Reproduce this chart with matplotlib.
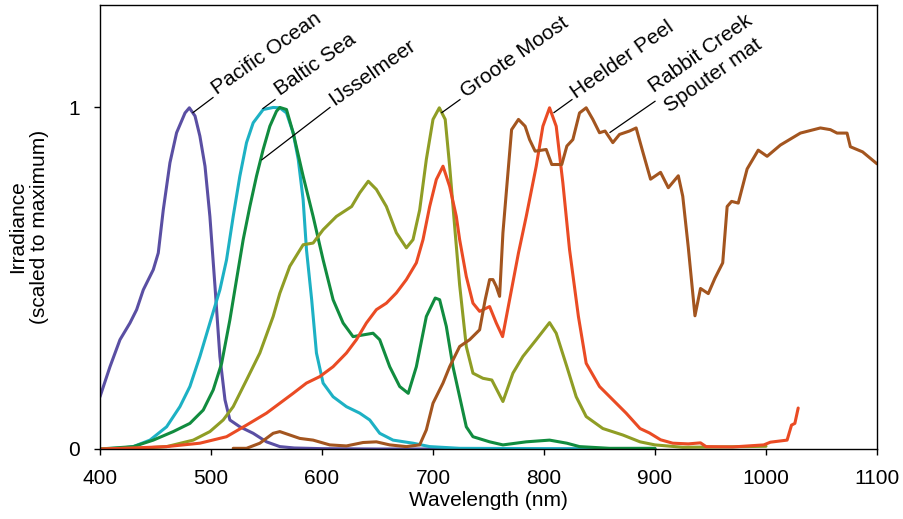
import matplotlib
matplotlib.use("Agg")
import matplotlib.pyplot as plt

plt.rcParams['font.family'] = ['Liberation Sans', 'DejaVu Sans']

# wavelength (nm) / irradiance scaled to max
pacific_x = [400, 409, 418, 427, 433, 439, 448, 452.5, 457, 463, 469, 476.6, 480.5, 485.6, 490, 494.6,
             499, 503.6, 508, 512.6, 517, 526, 538, 550, 562, 575, 600, 650, 700, 750, 800, 850, 900]
pacific_y = [0.153, 0.241, 0.32, 0.369, 0.408, 0.466, 0.525, 0.574, 0.70, 0.838, 0.926, 0.984, 0.999, 0.975, 0.916, 0.828,
             0.681, 0.476, 0.271, 0.144, 0.085, 0.065, 0.046, 0.021, 0.007, 0.003, 0.001, 0, 0, 0, 0, 0, 0]

baltic_x = [400, 420, 430, 445, 460, 472, 481, 490, 499, 508, 514, 520, 526, 532, 538, 547, 556, 562, 568,
            574, 578.6, 583, 586, 590.7, 595, 601, 610, 622, 634, 643, 652, 664, 682, 697, 724, 800, 900]
baltic_y = [0, 0.003, 0.007, 0.026, 0.065, 0.124, 0.183, 0.271, 0.369, 0.466, 0.554, 0.681, 0.799, 0.897, 0.955, 0.994, 1.0, 0.999, 0.984,
            0.926, 0.848, 0.73, 0.584, 0.437, 0.281, 0.193, 0.153, 0.124, 0.105, 0.085, 0.046, 0.026, 0.017, 0.007, 0.002, 0.001, 0]

ijssel_x = [400, 430, 448, 466, 481, 493, 502, 509.6, 517, 523, 529, 535, 541, 547, 553, 559, 562, 568,
            574, 583, 592, 601, 610, 619, 628, 637, 646, 652, 661, 670, 677.7, 685, 694, 702, 706, 712,
            718, 724, 730, 736, 751, 763, 784, 805, 820.6, 832, 859, 900]
ijssel_y = [0, 0.007, 0.026, 0.051, 0.075, 0.114, 0.173, 0.251, 0.378, 0.496, 0.613, 0.71, 0.799, 0.877, 0.945, 0.989, 1.0, 0.994,
            0.926, 0.799, 0.681, 0.554, 0.437, 0.369, 0.329, 0.334, 0.339, 0.32, 0.241, 0.183, 0.163, 0.241, 0.388, 0.442, 0.437, 0.359,
            0.241, 0.153, 0.065, 0.036, 0.021, 0.012, 0.021, 0.026, 0.017, 0.007, 0.002, 0.002]

groote_x = [400, 440, 460, 484, 499, 511, 520, 532, 544, 556, 562, 571, 583, 592, 601, 613, 626.7, 634,
            641.7, 649, 658, 667, 676, 682, 688, 694, 700, 705.7, 711, 715, 720, 724, 730, 736, 745, 753,
            763, 772, 781, 793, 805, 811, 820.6, 829, 838, 853, 871, 886.5, 900, 925, 960, 1000]
groote_y = [0, 0.003, 0.007, 0.026, 0.051, 0.085, 0.124, 0.202, 0.281, 0.388, 0.456, 0.535, 0.598, 0.603, 0.642, 0.681, 0.71, 0.75,
            0.784, 0.76, 0.71, 0.633, 0.589, 0.613, 0.70, 0.848, 0.965, 0.999, 0.965, 0.828, 0.633, 0.48, 0.30, 0.222, 0.207, 0.202,
            0.139, 0.222, 0.271, 0.32, 0.37, 0.339, 0.241, 0.153, 0.095, 0.06, 0.041, 0.021, 0.012, 0.005, 0.006, 0.008]

heelder_x = [400, 430, 460, 490, 514, 532, 550, 562, 574, 586, 598, 610, 622, 631, 640, 649, 658, 667,
             676, 685, 691, 697, 703, 709, 715, 721, 724, 730, 736, 742, 751, 757, 762.7, 769, 777, 784,
             793, 799, 805, 811, 817, 823, 831, 838, 850, 862, 874, 886.5, 895, 905, 916, 930, 941, 946,
             970, 998, 1004, 1019, 1023, 1026, 1029]
heelder_y = [0, 0.003, 0.007, 0.017, 0.036, 0.07, 0.105, 0.134, 0.163, 0.193, 0.212, 0.241, 0.281, 0.32, 0.369, 0.408, 0.427, 0.457,
             0.496, 0.545, 0.613, 0.71, 0.789, 0.828, 0.769, 0.681, 0.613, 0.505, 0.427, 0.403, 0.417, 0.369, 0.329, 0.437, 0.574, 0.681,
             0.828, 0.945, 0.999, 0.945, 0.779, 0.584, 0.388, 0.251, 0.183, 0.144, 0.105, 0.06, 0.047, 0.027, 0.017, 0.015, 0.018, 0.007,
             0.006, 0.012, 0.02, 0.026, 0.07, 0.075, 0.12]

rabbit_x = [520, 532, 544, 556, 562, 571, 580, 592, 607, 622, 637, 649, 661, 676, 688, 694, 700, 709,
            715, 724, 733, 742, 747, 751, 754, 757, 760, 763, 766, 770.8, 777, 783, 787, 792, 802, 807,
            816, 820.6, 826, 832, 838, 844, 850, 855, 862, 868, 877, 883, 889, 896, 905, 912, 921, 925,
            930, 936, 941, 948, 954, 961, 965, 969, 975, 983, 993, 1001, 1013, 1031, 1049, 1058, 1064,
            1073, 1076, 1087, 1100]
rabbit_y = [0.002, 0.002, 0.017, 0.046, 0.051, 0.041, 0.031, 0.026, 0.012, 0.009, 0.019, 0.021, 0.012, 0.007, 0.012, 0.056, 0.134, 0.193,
            0.241, 0.30, 0.32, 0.349, 0.437, 0.496, 0.496, 0.476, 0.447, 0.633, 0.75, 0.935, 0.965, 0.945, 0.906, 0.872, 0.877, 0.833,
            0.833, 0.887, 0.906, 0.984, 0.999, 0.965, 0.926, 0.931, 0.897, 0.921, 0.931, 0.94, 0.87, 0.79, 0.81, 0.765, 0.80, 0.74,
            0.59, 0.39, 0.47, 0.455, 0.50, 0.545, 0.71, 0.725, 0.72, 0.82, 0.875, 0.857, 0.89, 0.925, 0.94, 0.935, 0.925,
            0.925, 0.885, 0.87, 0.835]

series = [
    (pacific_x, pacific_y, '#5a4fa3'),
    (baltic_x, baltic_y, '#1db1c4'),
    (ijssel_x, ijssel_y, '#118c3f'),
    (groote_x, groote_y, '#8f9d25'),
    (heelder_x, heelder_y, '#ea4b24'),
    (rabbit_x, rabbit_y, '#a3551f'),
]

# label text, leader line start, leader line end, text anchor
labels = [
    ("Pacific Ocean", (483.8, 0.985), (501.8, 1.029), (505.5, 1.036)),
    ("Baltic Sea", (546.8, 0.997), (557.7, 1.023), (562.5, 1.034)),
    ("IJsselmeer", (545.9, 0.847), (607.2, 1.0), (611.0, 1.004)),
    ("Groote Moost", (708.0, 0.985), (724.3, 1.023), (729.5, 1.027)),
    ("Heelder Peel", (809.0, 0.985), (825.2, 1.023), (829.0, 1.024)),
    ("Rabbit Creek", (859.5, 0.927), (900.0, 1.018), (899.5, 1.043)),
]
extra_label = ("Spouter mat", (913.0, 0.984))

fig = plt.figure(figsize=(9.04, 5.19), dpi=100)
ax = fig.add_axes([100 / 904, 70 / 519, 777 / 904, 444 / 519])

for x, y, c in series:
    ax.plot(x, y, color=c, lw=2.2, solid_joinstyle='round', solid_capstyle='round')

for txt, p0, p1, tp in labels:
    ax.plot([p0[0], p1[0]], [p0[1], p1[1]], color='black', lw=0.9)
    ax.text(tp[0], tp[1], txt, rotation=35, rotation_mode='anchor',
            ha='left', va='baseline', fontsize=15)
ax.text(extra_label[1][0], extra_label[1][1], extra_label[0], rotation=35,
        rotation_mode='anchor', ha='left', va='baseline', fontsize=15)

ax.set_xlim(400, 1100)
ax.set_ylim(0, 1.3)
ax.set_xticks(range(400, 1101, 100))
ax.set_yticks([0, 1])
ax.set_yticklabels(['0', '1'])
ax.tick_params(direction='out', length=4.5, width=1, labelsize=15, pad=10)
for s in ax.spines.values():
    s.set_linewidth(1)
ax.set_xlabel("Wavelength (nm)", fontsize=15, labelpad=2)
ax.set_ylabel("Irradiance\n(scaled to maximum)", fontsize=15, labelpad=14)

fig.savefig("out.png", dpi=100)
